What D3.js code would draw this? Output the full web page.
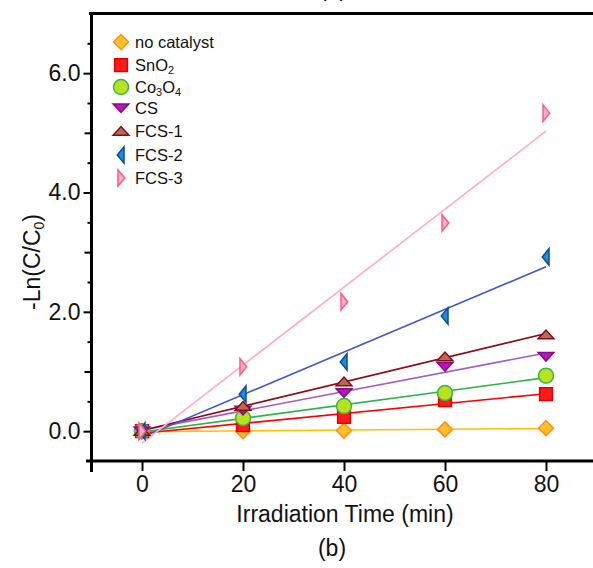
<!DOCTYPE html>
<html>
<head>
<meta charset="utf-8">
<script src="https://cdn.jsdelivr.net/npm/d3@7"></script>
<style>
  body { margin: 0; background: #fff; }
  text { font-family: "Liberation Sans", Arial, sans-serif; }
</style>
</head>
<body>
<script>
// irradiation times (min)
var times = [0, 20, 40, 60, 80];

// -Ln(C/C0)
var noCatalyst = [0, 0.00, 0.01, 0.03, 0.05];
var sno2 = [0, 0.10, 0.24, 0.52, 0.62];
var co3o4 = [0, 0.22, 0.42, 0.64, 0.93];
var cs = [0, 0.35, 0.64, 1.08, 1.25];
var fcs1 = [0, 0.42, 0.83, 1.25, 1.62];
var fcs2 = [0, 0.62, 1.16, 1.93, 2.92];
var fcs3 = [0, 1.08, 2.17, 3.49, 5.33];

var xTicks = [0, 20, 40, 60, 80];
var yTicks = [0, 2, 4, 6];

var series = [
  {name: 'no catalyst', vals: noCatalyst, shape: 'diamond', fill: '#FFC125', stroke: '#FF8C1A', line: '#FFC000'},
  {name: 'SnO2', vals: sno2, shape: 'square', fill: '#FF1A1A', stroke: '#E00000', line: '#FF0000'},
  {name: 'Co3O4', vals: co3o4, shape: 'circle', fill: '#B8E21E', stroke: '#3DB54A', line: '#2DB24A'},
  {name: 'CS', vals: cs, shape: 'down', fill: '#C010C0', stroke: '#80107F', line: '#A45CC0'},
  {name: 'FCS-1', vals: fcs1, shape: 'up', fill: '#B86A55', stroke: '#8B0A1A', line: '#8B0A1A'},
  {name: 'FCS-2', vals: fcs2, shape: 'left', fill: '#1C8CE0', stroke: '#0A4D8C', line: '#4055D0'},
  {name: 'FCS-3', vals: fcs3, shape: 'right', fill: '#FFB0C8', stroke: '#FF5A88', line: '#FFAAC8'}
];

var W = 593, H = 568;
var svg = d3.select('body').append('svg')
    .attr('width', W)
    .attr('height', H);

var x = d3.scaleLinear().domain([-10, 90]).range([91.5, 596.5]);
var y = d3.scaleLinear().domain([-0.5, 7]).range([461, 13.5]);

function shapePath(shape, s) {
  // s = half size
  switch (shape) {
    case 'diamond': return 'M0,' + (-s) + 'L' + s + ',0L0,' + s + 'L' + (-s) + ',0Z';
    case 'square': return 'M' + (-s*0.85) + ',' + (-s*0.85) + 'h' + (s*1.7) + 'v' + (s*1.7) + 'h' + (-s*1.7) + 'Z';
    case 'circle': return d3.symbol(d3.symbolCircle, Math.PI * s * s)();
    case 'down': return 'M' + (-s*1.05) + ',' + (-s*0.55) + 'L' + (s*1.05) + ',' + (-s*0.55) + 'L0,' + (s*0.6) + 'Z';
    case 'up': return 'M' + (-s*1.05) + ',' + (s*0.55) + 'L' + (s*1.05) + ',' + (s*0.55) + 'L0,' + (-s*0.6) + 'Z';
    case 'left': return 'M' + (s*0.4) + ',' + (-s*1.1) + 'L' + (s*0.4) + ',' + (s*1.1) + 'L' + (-s*0.5) + ',0Z';
    case 'right': return 'M' + (-s*0.4) + ',' + (-s*1.1) + 'L' + (-s*0.4) + ',' + (s*1.1) + 'L' + (s*0.5) + ',0Z';
  }
}

// least squares fit line for each series
function fit(vals) {
  var mt = d3.mean(times), mv = d3.mean(vals);
  var num = d3.sum(times, function(t, i) { return (t - mt) * (vals[i] - mv); });
  var den = d3.sum(times, function(t) { return (t - mt) * (t - mt); });
  var k = num / den;
  return {k: k, b: mv - k * mt};
}

// fit lines
series.forEach(function(s) {
  var f = fit(s.vals);
  svg.append('line')
      .attr('x1', x(0))
      .attr('y1', y(f.b))
      .attr('x2', x(80))
      .attr('y2', y(f.k * 80 + f.b))
      .attr('stroke', s.line)
      .attr('stroke-width', 1.6);
});

// markers
series.forEach(function(s) {
  svg.selectAll(null)
      .data(s.vals)
      .enter().append('path')
      .attr('transform', function(d, i) { return 'translate(' + x(times[i]) + ',' + y(d) + ')'; })
      .attr('d', shapePath(s.shape, 7.5))
      .attr('fill', s.fill)
      .attr('stroke', s.stroke)
      .attr('stroke-width', 1.5);
});

// axes frame
var ax = svg.append('g').attr('stroke', '#000').attr('stroke-width', 3);
ax.append('line').attr('x1', 89).attr('y1', y(7)).attr('x2', W).attr('y2', y(7));
ax.append('line').attr('x1', x(-10)).attr('y1', y(7) - 1.5).attr('x2', x(-10)).attr('y2', 472);
ax.append('line').attr('x1', 86).attr('y1', y(-0.5)).attr('x2', W).attr('y2', y(-0.5));

// y axis ticks
var yAxis = d3.axisLeft(y)
    .tickValues(yTicks)
    .tickSize(8)
    .tickPadding(3)
    .tickFormat(d3.format('.1f'));
var gy = svg.append('g').attr('transform', 'translate(' + x(-10) + ',0)').call(yAxis);
gy.select('.domain').remove();
gy.selectAll('.tick line').attr('stroke-width', 2);
gy.selectAll('.tick text').attr('font-size', 23).attr('fill', '#111').attr('font-family', '"Liberation Sans", Arial, sans-serif');

var yMid = d3.axisLeft(y).tickValues([1, 3, 5]).tickSize(7).tickFormat('');
var gm = svg.append('g').attr('transform', 'translate(' + x(-10) + ',0)').call(yMid);
gm.select('.domain').remove();
gm.selectAll('.tick line').attr('stroke-width', 2);

var yMinor = d3.axisLeft(y).tickValues([0.5, 1.5, 2.5, 3.5, 4.5, 5.5, 6.5]).tickSize(4).tickFormat('');
var gn = svg.append('g').attr('transform', 'translate(' + x(-10) + ',0)').call(yMinor);
gn.select('.domain').remove();
gn.selectAll('.tick line').attr('stroke-width', 2);

// x axis ticks
var xAxis = d3.axisBottom(x)
    .tickValues(xTicks)
    .tickSize(10)
    .tickPadding(5);
var gx = svg.append('g').attr('transform', 'translate(0,' + y(-0.5) + ')').call(xAxis);
gx.select('.domain').remove();
gx.selectAll('.tick line').attr('stroke-width', 2);
gx.selectAll('.tick text').attr('font-size', 23).attr('fill', '#111').attr('font-family', '"Liberation Sans", Arial, sans-serif');

// axis titles
svg.append('text')
    .attr('x', 345)
    .attr('y', 522)
    .attr('text-anchor', 'middle')
    .attr('font-size', 23)
    .attr('fill', '#111')
    .text('Irradiation Time (min)');

var yl = svg.append('text')
    .attr('transform', 'translate(40,262) rotate(-90)')
    .attr('text-anchor', 'middle')
    .attr('font-size', 23)
    .attr('fill', '#111');
yl.append('tspan').text('-Ln(C/C');
yl.append('tspan').attr('font-size', 14).attr('dy', 4).text('0');
yl.append('tspan').attr('dy', -4).text(')');

svg.append('text')
    .attr('x', 332)
    .attr('y', 556)
    .attr('text-anchor', 'middle')
    .attr('font-size', 23)
    .attr('fill', '#111')
    .text('(b)');

// panel label of the figure above, cut off by the page edge as in the source
svg.append('text')
    .attr('x', 333)
    .attr('y', -4)
    .attr('text-anchor', 'middle')
    .attr('font-size', 23)
    .attr('fill', '#111')
    .text('(a)');

// legend
var legRows = [42, 65, 87, 108, 131, 155, 178];
var leg = svg.append('g');
series.forEach(function(s, i) {
  var ry = legRows[i];
  leg.append('path')
      .attr('transform', 'translate(121,' + ry + ')')
      .attr('d', shapePath(s.shape, 7.5))
      .attr('fill', s.fill)
      .attr('stroke', s.stroke)
      .attr('stroke-width', 1.5);
  var t = leg.append('text')
      .attr('x', 135)
      .attr('y', ry + 6)
      .attr('font-size', 16.5)
      .attr('fill', '#111');
  if (s.name === 'SnO2') {
    t.append('tspan').text('SnO');
    t.append('tspan').attr('font-size', 11).attr('dy', 3).text('2');
  } else if (s.name === 'Co3O4') {
    t.append('tspan').text('Co');
    t.append('tspan').attr('font-size', 11).attr('dy', 3).text('3');
    t.append('tspan').attr('dy', -3).text('O');
    t.append('tspan').attr('font-size', 11).attr('dy', 3).text('4');
  } else {
    t.text(s.name);
  }
});
</script>
</body>
</html>
